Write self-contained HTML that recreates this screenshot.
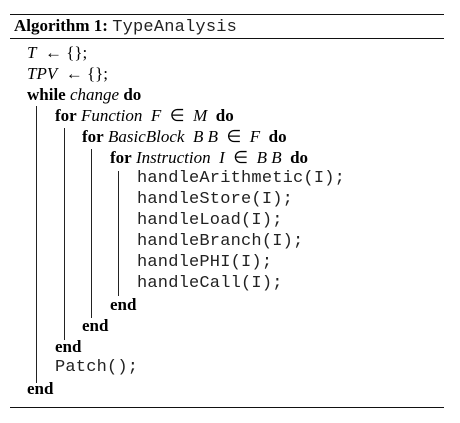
<!DOCTYPE html>
<html><head><style>
body{margin:0;width:460px;height:423px;background:#fff;position:relative;overflow:hidden;font-family:"Liberation Serif",serif;font-size:17px;color:#000}
.r{position:absolute;left:10px;width:434px;height:1px;background:#111}
.l{position:absolute;white-space:nowrap;height:20px;line-height:20px}
.m{font-family:"Liberation Mono",monospace;font-size:17px;color:#222;letter-spacing:0.2px}
.v{position:absolute;width:1px;background:#222}
i.x{margin:0 1px}
b{font-weight:bold}
</style></head><body>
<div class="r" style="top:14px"></div>
<div class="r" style="top:38px"></div>
<div class="r" style="top:407px"></div>
<div class="l" style="left:14px;top:16px"><b>Algorithm 1:</b> <span class="m">TypeAnalysis</span></div>
<div class="l" style="left:27px;top:43px"><i>T</i> &nbsp;← {};</div>
<div class="l" style="left:27px;top:64px"><i>TPV</i> &nbsp;← {};</div>
<div class="l" style="left:27px;top:85px"><b>while</b> <i>change</i> <b>do</b></div>
<div class="l" style="left:55px;top:106px"><b>for</b> <i>Function</i>&nbsp; <i>F</i> &nbsp;∈ &nbsp;<i>M</i> &nbsp;<b>do</b></div>
<div class="l" style="left:82px;top:127px"><b>for</b> <i>BasicBlock</i>&nbsp; <i>B B</i> &nbsp;∈ &nbsp;<i>F</i> &nbsp;<b>do</b></div>
<div class="l" style="left:110px;top:148px"><b>for</b> <i>Instruction</i>&nbsp; <i>I</i> &nbsp;∈ &nbsp;<i>B B</i> &nbsp;<b>do</b></div>
<div class="l m" style="left:137px;top:169px">handleArithmetic(I);</div>
<div class="l m" style="left:137px;top:190px">handleStore(I);</div>
<div class="l m" style="left:137px;top:211px">handleLoad(I);</div>
<div class="l m" style="left:137px;top:232px">handleBranch(I);</div>
<div class="l m" style="left:137px;top:253px">handlePHI(I);</div>
<div class="l m" style="left:137px;top:274px">handleCall(I);</div>
<div class="l" style="left:110px;top:295px"><b>end</b></div>
<div class="l" style="left:82px;top:316px"><b>end</b></div>
<div class="l" style="left:55px;top:337px"><b>end</b></div>
<div class="l m" style="left:55px;top:358px">Patch();</div>
<div class="l" style="left:27px;top:379px"><b>end</b></div>
<div class="v" style="left:36px;top:106px;height:277px"></div>
<div class="v" style="left:64px;top:128px;height:212px"></div>
<div class="v" style="left:91px;top:149px;height:169px"></div>
<div class="v" style="left:118px;top:171px;height:125px"></div>
</body></html>
